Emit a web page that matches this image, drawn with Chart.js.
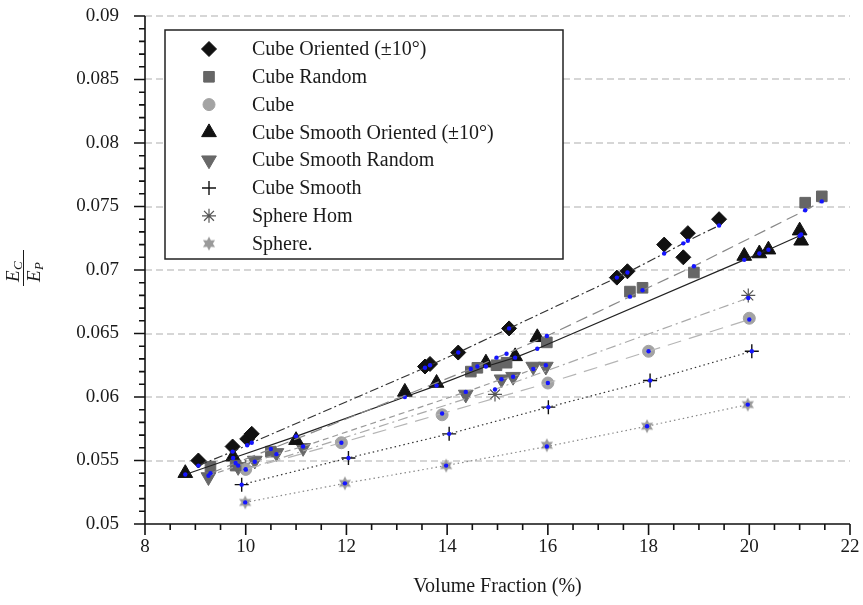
<!DOCTYPE html>
<html>
<head>
<meta charset="utf-8">
<script src="https://cdn.jsdelivr.net/npm/chart.js@4.4.1/dist/chart.umd.min.js"></script>
<style>
  html, body { margin: 0; padding: 0; background: #fff; }
  #wrap { width: 863px; height: 605px; }
</style>
</head>
<body>
<div id="wrap"><canvas id="modulusChart" width="863" height="605"></canvas></div>
<script>
// ---- data ----
const seriesLabels = ["Cube Oriented (\u00b110\u00b0)", "Cube Random", "Cube",
    "Cube Smooth Oriented (\u00b110\u00b0)", "Cube Smooth Random", "Cube Smooth", "Sphere Hom", "Sphere."];

const cubeOrientedX = [9.06, 9.74, 10.03, 10.12, 13.56, 13.66, 14.22, 15.23, 17.37, 17.58, 18.31, 18.69, 18.78, 19.40];
const cubeOrientedY = [0.0550, 0.0561, 0.0567, 0.0571, 0.0624, 0.0626, 0.0635, 0.0654, 0.0694, 0.0699, 0.0720, 0.0710, 0.0729, 0.0740];
const cubeOrientedFit = [0.0546, 0.0557, 0.0562, 0.0564, 0.0623, 0.0625, 0.0635, 0.0654, 0.0694, 0.0698, 0.0713, 0.0721, 0.0723, 0.0735];

const cubeRandomX = [9.3, 9.8, 10.5, 14.47, 14.6, 14.98, 15.18, 15.98, 17.63, 17.88, 18.9, 21.11, 21.44];
const cubeRandomY = [0.0545, 0.0546, 0.0557, 0.0620, 0.0623, 0.0625, 0.0627, 0.0643, 0.0683, 0.0686, 0.0698, 0.0753, 0.0758];
const cubeRandomFit = [0.0540, 0.0548, 0.0559, 0.0622, 0.0624, 0.0631, 0.0634, 0.0648, 0.0679, 0.0684, 0.0703, 0.0747, 0.0754];

const cubeX = [10.0, 11.9, 13.9, 16.0, 18.0, 20.0];
const cubeY = [0.0543, 0.0564, 0.0586, 0.0611, 0.0636, 0.0662];
const cubeFit = [0.0543, 0.0564, 0.0587, 0.0611, 0.0636, 0.0661];

const smoothOrientedX = [8.8, 9.75, 11.0, 13.16, 13.79, 14.77, 15.35, 15.79, 19.9, 20.2, 20.38, 21.0, 21.03];
const smoothOrientedY = [0.0540, 0.0553, 0.0566, 0.0604, 0.0611, 0.0627, 0.0632, 0.0647, 0.0711, 0.0713, 0.0716, 0.0731, 0.0723];
const smoothOrientedFit = [0.0539, 0.0552, 0.0569, 0.0600, 0.0609, 0.0624, 0.0631, 0.0638, 0.0708, 0.0713, 0.0716, 0.0727, 0.0728];

const smoothRandomX = [9.26, 9.85, 10.18, 10.61, 11.14, 14.37, 15.08, 15.31, 15.71, 15.96];
const smoothRandomY = [0.0537, 0.0545, 0.0550, 0.0556, 0.0560, 0.0602, 0.0614, 0.0616, 0.0624, 0.0624];
const smoothRandomFit = [0.0538, 0.0546, 0.0549, 0.0555, 0.0561, 0.0604, 0.0614, 0.0616, 0.0622, 0.0625];

const cubeSmoothX = [9.92, 12.04, 14.04, 16.01, 18.03, 20.05];
const cubeSmoothY = [0.0531, 0.0552, 0.0571, 0.0592, 0.0613, 0.0636];
const cubeSmoothFit = [0.0531, 0.0552, 0.0571, 0.0592, 0.0613, 0.0636];

const sphereHomX = [10.0, 14.95, 19.98];
const sphereHomY = [0.0545, 0.0602, 0.0680];
const sphereHomFit = [0.0543, 0.0606, 0.0678];

const sphereX = [9.99, 11.97, 13.98, 15.98, 17.97, 19.97];
const sphereY = [0.0517, 0.0532, 0.0546, 0.0562, 0.0577, 0.0594];
const sphereFit = [0.0517, 0.0532, 0.0546, 0.0561, 0.0577, 0.0594];

const xTicks = [8, 10, 12, 14, 16, 18, 20, 22];
const yTicks = [0.05, 0.055, 0.06, 0.065, 0.07, 0.075, 0.08, 0.085, 0.09];

// ---- helpers ----
const pts = (xs, ys) => xs.map((x, i) => ({ x: x, y: ys[i] }));

function makeStar(r, color) {
    const c = document.createElement("canvas");
    c.width = c.height = 2 * r + 2;
    const g = c.getContext("2d");
    g.fillStyle = color;
    g.beginPath();
    for (let i = 0; i < 12; i++) {
        const a = -Math.PI / 2 + i * Math.PI / 6;
        const rr = i % 2 ? r * 0.55 : r;
        g.lineTo(r + 1 + rr * Math.cos(a), r + 1 + rr * Math.sin(a));
    }
    g.closePath();
    g.fill();
    return c;
}

const serif = "'Liberation Serif', 'DejaVu Serif', serif";
const blue = "#1515ff";

function fitLine(xs, ys, color, dash) {
    return {
        type: "scatter", showLine: true, order: 0,
        data: pts(xs, ys),
        borderColor: color, borderWidth: 1.2, borderDash: dash,
        pointRadius: 2.2, pointBackgroundColor: blue, pointBorderWidth: 0,
        legendSkip: true
    };
}

function markers(label, xs, ys, style, color, radius, extra) {
    return Object.assign({
        type: "scatter", order: 1, label: label,
        data: pts(xs, ys),
        pointStyle: style, pointRadius: radius,
        pointBackgroundColor: color, pointBorderColor: color, pointBorderWidth: 1
    }, extra || {});
}

const datasets = [
    fitLine(cubeOrientedX, cubeOrientedFit, "#333", [9, 3, 2, 3]),
    fitLine(cubeRandomX, cubeRandomFit, "#888", [12, 6]),
    fitLine(cubeX, cubeFit, "#b5b5b5", [14, 8]),
    fitLine(smoothOrientedX, smoothOrientedFit, "#222", []),
    fitLine(smoothRandomX, smoothRandomFit, "#999", [6, 4]),
    fitLine(cubeSmoothX, cubeSmoothFit, "#333", [1.5, 3]),
    fitLine(sphereHomX, sphereHomFit, "#aaa", [10, 4, 2, 4]),
    fitLine(sphereX, sphereFit, "#888", [1.5, 3]),

    markers(seriesLabels[0], cubeOrientedX, cubeOrientedY, "rectRot", "#111", 7.5),
    markers(seriesLabels[1], cubeRandomX, cubeRandomY, "rect", "#666", 7.5),
    markers(seriesLabels[2], cubeX, cubeY, "circle", "#a3a3a3", 6),
    markers(seriesLabels[3], smoothOrientedX, smoothOrientedY, "triangle", "#111", 8.5),
    markers(seriesLabels[4], smoothRandomX, smoothRandomY, "triangle", "#686868", 8.5, { pointRotation: 180 }),
    markers(seriesLabels[5], cubeSmoothX, cubeSmoothY, "cross", "#111", 7, { pointBorderWidth: 1.4 }),
    markers(seriesLabels[6], sphereHomX, sphereHomY, "star", "#555", 7, { pointBorderWidth: 1.2 }),
    markers(seriesLabels[7], sphereX, sphereY, makeStar(7, "#9a9a9a"), "#9a9a9a", 7)
];

// grid, axes with major/minor ticks, legend box, y title
const figurePlugin = {
    id: "figure",
    beforeDatasetsDraw(chart) {
        const ctx = chart.ctx, area = chart.chartArea, ys = chart.scales.y;
        ctx.save();
        ctx.strokeStyle = "#d6d6d6";
        ctx.lineWidth = 2;
        ctx.setLineDash([7, 4]);
        yTicks.slice(1).forEach(v => {
            const py = Math.round(ys.getPixelForValue(v));
            ctx.beginPath();
            ctx.moveTo(area.left, py);
            ctx.lineTo(area.right, py);
            ctx.stroke();
        });
        ctx.restore();
    },
    afterDatasetsDraw(chart) {
        const ctx = chart.ctx, area = chart.chartArea;
        const xs = chart.scales.x, ys = chart.scales.y;
        ctx.save();
        ctx.strokeStyle = "#111";
        ctx.lineWidth = 1.6;
        ctx.beginPath();
        ctx.moveTo(area.left, area.top);
        ctx.lineTo(area.left, area.bottom + 6);
        ctx.moveTo(area.left - 6, area.bottom);
        ctx.lineTo(area.right, area.bottom);
        // x ticks every 0.5
        for (let v = xs.min; v <= xs.max + 1e-9; v += 0.5) {
            const px = xs.getPixelForValue(v);
            const major = Math.abs(v / 2 - Math.round(v / 2)) < 1e-6;
            ctx.moveTo(px, area.bottom);
            ctx.lineTo(px, area.bottom + (major ? 11 : 6));
        }
        // y ticks every 0.001
        for (let k = 0; k <= 40; k++) {
            const v = ys.min + k * 0.001;
            const py = ys.getPixelForValue(v);
            ctx.moveTo(area.left, py);
            ctx.lineTo(area.left - (k % 5 === 0 ? 11 : 6), py);
        }
        ctx.stroke();
        ctx.restore();
    },
    afterDraw(chart) {
        const ctx = chart.ctx;
        ctx.save();
        // legend
        const bx = 165, by = 30, bw = 398, bh = 229;
        ctx.fillStyle = "#fff";
        ctx.fillRect(bx, by, bw, bh);
        ctx.strokeStyle = "#222";
        ctx.lineWidth = 1.5;
        ctx.strokeRect(bx, by, bw, bh);
        ctx.font = "20px " + serif;
        ctx.textBaseline = "middle";
        const items = chart.data.datasets.filter(d => !d.legendSkip);
        items.forEach((d, i) => {
            const y = 49 + i * 27.8;
            ctx.fillStyle = d.pointBackgroundColor;
            ctx.strokeStyle = d.pointBorderColor;
            ctx.lineWidth = d.pointBorderWidth;
            Chart.helpers.drawPoint(ctx, {
                pointStyle: d.pointStyle, rotation: d.pointRotation || 0,
                radius: d.pointRadius, borderWidth: d.pointBorderWidth
            }, 209, y);
            ctx.fillStyle = "#1a1a1a";
            ctx.fillText(d.label, 252, y + 1);
        });
        // y axis title E_C / E_P
        ctx.translate(23, 268);
        ctx.rotate(-Math.PI / 2);
        ctx.fillStyle = "#1a1a1a";
        ctx.strokeStyle = "#1a1a1a";
        ctx.lineWidth = 1;
        ctx.beginPath();
        ctx.moveTo(-18, 0.5);
        ctx.lineTo(18, 0.5);
        ctx.stroke();
        ctx.textBaseline = "alphabetic";
        ctx.font = "italic 19px " + serif;
        ctx.fillText("E", -14, -4);
        ctx.fillText("E", -14, 17);
        ctx.font = "italic 13px " + serif;
        ctx.fillText("C", -2, -1);
        ctx.fillText("P", -2, 20);
        ctx.restore();
    }
};

new Chart(document.getElementById("modulusChart"), {
    type: "scatter",
    data: { datasets: datasets },
    options: {
        responsive: false,
        animation: false,
        layout: { padding: { left: 0, right: 13, top: 16, bottom: 0 } },
        plugins: {
            legend: { display: false },
            tooltip: { enabled: false }
        },
        scales: {
            x: {
                type: "linear", min: 8, max: 22,
                afterFit: s => { s.height = 81; },
                afterBuildTicks: s => { s.ticks = xTicks.map(v => ({ value: v })); },
                grid: { display: false, drawTicks: true, tickLength: 12 },
                border: { display: false },
                ticks: { padding: 0, color: "#1a1a1a", font: { family: serif, size: 19 } },
                title: {
                    display: true, text: "Volume Fraction (%)", color: "#1a1a1a",
                    font: { family: serif, size: 20 }, padding: { top: 2, bottom: 6 }
                }
            },
            y: {
                type: "linear", min: 0.05, max: 0.09,
                afterFit: s => { s.width = 145; },
                afterBuildTicks: s => { s.ticks = yTicks.map(v => ({ value: v })); },
                grid: { display: false, drawTicks: true, tickLength: 26 },
                border: { display: false },
                ticks: {
                    padding: 0, color: "#1a1a1a", font: { family: serif, size: 19 },
                    callback: v => String(+v.toFixed(3))
                }
            }
        }
    },
    plugins: [figurePlugin]
});
</script>
</body>
</html>
